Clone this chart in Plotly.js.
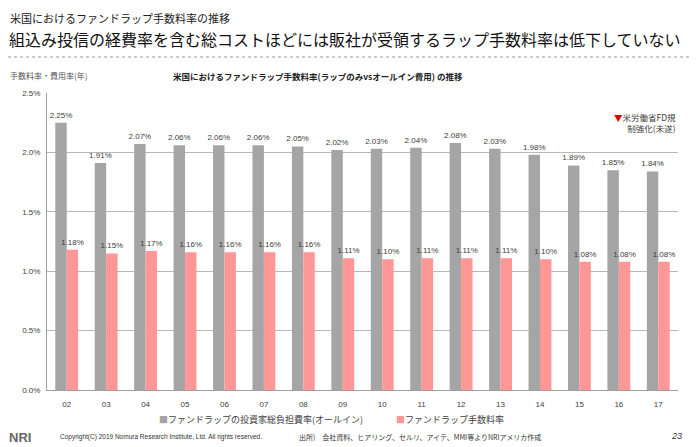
<!DOCTYPE html>
<html>
<head>
<meta charset="utf-8">
<script src="https://cdn.plot.ly/plotly-3.0.1.min.js"></script>
<style>
html,body{margin:0;padding:0;background:#fff;}
#chart{width:700px;height:447px;}
</style>
</head>
<body>
<div id="chart"></div>
<script>
const years = ["02","03","04","05","06","07","08","09","10","11","12","13","14","15","16","17"];
const allInCost = [2.25,1.91,2.07,2.06,2.06,2.06,2.05,2.02,2.03,2.04,2.08,2.03,1.98,1.89,1.85,1.84];
const wrapFee = [1.18,1.15,1.17,1.16,1.16,1.16,1.16,1.11,1.10,1.11,1.11,1.11,1.10,1.08,1.08,1.08];
const seriesNames = ["ファンドラップの投資家総負担費率(オールイン)","ファンドラップ手数料率"];
const yTicks = [0,0.5,1.0,1.5,2.0,2.5];

const JP = '"Noto Sans CJK JP", "Noto Sans", sans-serif';
const LS = '"Liberation Sans", Arial, sans-serif';
const grayC = '#a5a5a5';
const pinkC = '#ff9797';

const traces = [
  {type:'bar', x:years, y:allInCost, name:seriesNames[0], marker:{color:grayC},
   text:allInCost.map(v=>v.toFixed(2)+'%'), textposition:'outside', constraintext:'none', cliponaxis:false,
   textfont:{family:LS, size:8, color:'#404040'}, hoverinfo:'x+y'},
  {type:'bar', x:years, y:wrapFee, name:seriesNames[1], marker:{color:pinkC},
   text:wrapFee.map(v=>v.toFixed(2)+'%'), textposition:'outside', constraintext:'none', cliponaxis:false,
   textfont:{family:LS, size:8, color:'#404040'}, hoverinfo:'x+y'}
];

function px2paperY(py){ return (390-py)/(390-93); }
function px2paperX(px){ return (px-47)/(678-47); }

const annotations = [
  {xref:'paper', yref:'paper', x:px2paperX(678), y:px2paperY(122), xanchor:'right', yanchor:'middle', align:'right',
   text:'<span style="color:#e00000">▼</span>米労働省FD規<br>制強化(未遂)', showarrow:false,
   font:{family:JP, size:8.5, color:'#404040'}},
  {xref:'paper', yref:'paper', x:px2paperX(157), y:px2paperY(419), xanchor:'left', yanchor:'middle',
   text:'<span style="color:'+grayC+'">■</span>'+seriesNames[0], showarrow:false,
   font:{family:JP, size:9, color:'#404040'}},
  {xref:'paper', yref:'paper', x:px2paperX(394), y:px2paperY(419), xanchor:'left', yanchor:'middle',
   text:'<span style="color:'+pinkC+'">■</span>'+seriesNames[1], showarrow:false,
   font:{family:JP, size:9, color:'#404040'}},
  {xref:'paper', yref:'paper', x:px2paperX(8), y:px2paperY(18), xanchor:'left', yanchor:'middle',
   text:'米国におけるファンドラップ手数料率の推移', showarrow:false,
   font:{family:JP, size:11, color:'#222'}},
  {xref:'paper', yref:'paper', x:px2paperX(7), y:px2paperY(39), xanchor:'left', yanchor:'middle',
   text:'組込み投信の経費率を含む総コストほどには販社が受領するラップ手数料率は低下していない', showarrow:false,
   font:{family:JP, size:16, color:'#111'}},
  {xref:'paper', yref:'paper', x:px2paperX(8), y:px2paperY(76), xanchor:'left', yanchor:'middle',
   text:'手数料率・費用率(年)', showarrow:false,
   font:{family:JP, size:8, color:'#555'}},
  {xref:'paper', yref:'paper', x:px2paperX(318), y:px2paperY(76), xanchor:'center', yanchor:'middle',
   text:'<b>米国におけるファンドラップ手数料率(ラップのみvsオールイン費用) の推移</b>', showarrow:false,
   font:{family:JP, size:8.5, color:'#222'}},
  {xref:'paper', yref:'paper', x:px2paperX(7), y:px2paperY(437), xanchor:'left', yanchor:'middle',
   text:'<b>NRI</b>', showarrow:false,
   font:{family:LS, size:13, color:'#666'}},
  {xref:'paper', yref:'paper', x:px2paperX(58), y:px2paperY(437), xanchor:'left', yanchor:'middle',
   text:'Copyright(C) 2019 Nomura Research Institute, Ltd. All rights reserved.', showarrow:false,
   font:{family:LS, size:6.5, color:'#333'}},
  {xref:'paper', yref:'paper', x:px2paperX(297), y:px2paperY(437), xanchor:'left', yanchor:'middle',
   text:'出所)　会社資料、ヒアリング、セルリ、アイテ、MMI等よりNRIアメリカ作成', showarrow:false,
   font:{family:JP, size:7, color:'#333'}},
  {xref:'paper', yref:'paper', x:px2paperX(684), y:px2paperY(436), xanchor:'right', yanchor:'middle',
   text:'<i>23</i>', showarrow:false,
   font:{family:LS, size:9, color:'#333'}}
];

const shapes = [
  {type:'line', xref:'paper', yref:'paper', x0:px2paperX(8), x1:px2paperX(690), y0:px2paperY(57), y1:px2paperY(57),
   line:{color:'#999', width:1, dash:'dot'}}
];

const layout = {
  width:700, height:447,
  margin:{l:47, r:22, t:93, b:57, pad:0},
  paper_bgcolor:'#fff', plot_bgcolor:'#fff',
  barmode:'group', bargap:0.42, bargroupgap:0,
  showlegend:false,
  xaxis:{type:'category', showgrid:false, showline:true, linecolor:'#a0a0a0', linewidth:1,
    ticks:'', tickfont:{family:LS, size:8, color:'#404040'}, ticklabelstandoff:6},
  yaxis:{range:[0,2.5], tickvals:yTicks, ticktext:yTicks.map(v=>v.toFixed(1)+'%'),
    showgrid:true, gridcolor:'#b8b8b8', gridwidth:1, showline:true, linecolor:'#a0a0a0', linewidth:1,
    zeroline:false, ticks:'', tickfont:{family:LS, size:8, color:'#404040'}, ticklabelstandoff:4},
  annotations:annotations,
  shapes:shapes,
  font:{family:JP}
};

Plotly.newPlot('chart', traces, layout, {displayModeBar:false, staticPlot:true});
</script>
</body>
</html>
